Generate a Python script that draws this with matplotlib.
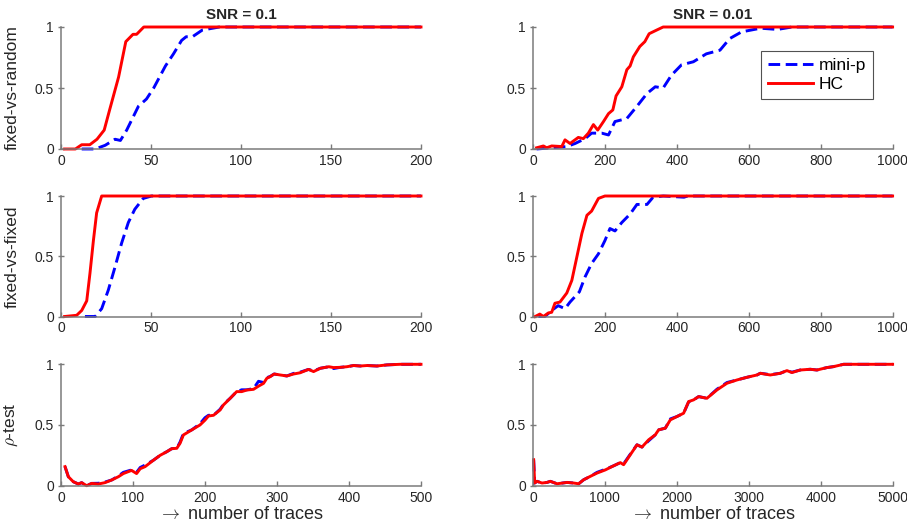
import numpy as np
import matplotlib
matplotlib.use('Agg')
import matplotlib.pyplot as plt

plt.rcParams.update({
    'font.family': ['Liberation Sans', 'DejaVu Sans'],
    'mathtext.fontset': 'cm',
    'axes.edgecolor': '#7a7a7a',
    'xtick.color': '#7a7a7a',
    'ytick.color': '#7a7a7a',
    'xtick.labelcolor': '#262626',
    'ytick.labelcolor': '#262626',
})

# ---- data ----
# fixed-vs-random, SNR = 0.1
fvr01_hc_x = [2, 8, 11.5, 16, 20, 24, 27, 32, 36, 40, 42, 46, 200]
fvr01_hc_y = [0, 0, 0.035, 0.035, 0.08, 0.155, 0.32, 0.59, 0.88, 0.94, 0.94, 1.0, 1.0]
fvr01_mp_x = [11.5, 19, 24.5, 30, 33, 36.5, 43, 47.5, 51.5, 58, 62.5, 67, 69.5, 73, 78.5, 88, 200]
fvr01_mp_y = [0, 0, 0.03, 0.08, 0.07, 0.155, 0.35, 0.41, 0.50, 0.68, 0.78, 0.89, 0.92, 0.92, 0.975, 1.0, 1.0]

# fixed-vs-random, SNR = 0.01
fvr001_hc_x = [10, 29, 38, 52, 80, 89, 103, 126, 140, 154, 168, 180, 196, 210, 222, 231,
               247, 261, 270, 279, 297, 311, 323, 344, 362, 1000]
fvr001_hc_y = [0.01, 0.025, 0.01, 0.025, 0.02, 0.075, 0.045, 0.095, 0.085, 0.13, 0.20, 0.155,
               0.225, 0.29, 0.32, 0.435, 0.51, 0.65, 0.68, 0.755, 0.84, 0.88, 0.945, 0.975, 1.0, 1.0]
fvr001_mp_x = [10, 94, 117, 145, 163, 191, 210, 228, 261, 289, 317, 340, 362, 385, 413, 446,
               482, 520, 547, 580, 633, 680, 720, 1000]
fvr001_mp_y = [0, 0.02, 0.045, 0.085, 0.13, 0.13, 0.115, 0.225, 0.25, 0.35, 0.455, 0.51, 0.50,
               0.605, 0.69, 0.715, 0.78, 0.81, 0.905, 0.96, 0.99, 0.98, 1.0, 1.0]

# fixed-vs-fixed, SNR = 0.1
fvf01_hc_x = [2, 8.7, 11.5, 14.3, 16.1, 18, 19.8, 22.6, 200]
fvf01_hc_y = [0, 0.01, 0.05, 0.13, 0.36, 0.63, 0.86, 1.0, 1.0]
fvf01_mp_x = [13.3, 19, 22.6, 26.3, 30, 33.7, 37.4, 41, 45.7, 50.3, 200]
fvf01_mp_y = [0, 0, 0.065, 0.22, 0.41, 0.61, 0.78, 0.89, 0.98, 1.0, 1.0]

# fixed-vs-fixed, SNR = 0.01
fvf001_hc_x = [6, 19, 29, 43, 52, 61, 75, 94, 108, 122, 136, 150, 163, 182, 200, 1000]
fvf001_hc_y = [0, 0.02, 0.0, 0.03, 0.035, 0.11, 0.12, 0.195, 0.30, 0.495, 0.69, 0.84, 0.875,
               0.98, 1.0, 1.0]
fvf001_mp_x = [15, 33, 52, 70, 89, 103, 129, 145, 163, 182, 200, 214, 228, 247, 270, 289,
               317, 334, 362, 420, 430, 1000]
fvf001_mp_y = [0, 0, 0.05, 0.09, 0.065, 0.12, 0.205, 0.33, 0.44, 0.52, 0.63, 0.73, 0.71, 0.78,
               0.85, 0.93, 0.93, 0.99, 1.0, 0.99, 1.0, 1.0]

# rho-test, SNR = 0.1
rho01_x = [5.6, 10.2, 17, 24, 28.7, 35.7, 42.6, 51.9, 61, 70.4, 79.7, 86.6, 98, 105, 110,
           116.8, 128.4, 137.6, 146.9, 153.8, 160.8, 165.4, 170, 181.7, 193, 200, 204.8,
           211.8, 221, 225.6, 235, 244, 251, 258, 267.4, 274.3, 281.3, 285.9, 290.5, 296,
           304.5, 313.7, 323, 332, 343.8, 350.8, 360, 372, 378.6, 388, 397, 406.4, 415.7,
           425, 438.8, 452.6, 471, 500]
rho01_hc = [0.157, 0.074, 0.033, 0.014, 0.025, 0.0, 0.019, 0.014, 0.025, 0.047, 0.074, 0.10,
            0.126, 0.10, 0.14, 0.157, 0.21, 0.25, 0.28, 0.305, 0.308, 0.35, 0.418, 0.46, 0.50,
            0.54, 0.574, 0.58, 0.624, 0.665, 0.72, 0.775, 0.775, 0.788, 0.794, 0.82, 0.843,
            0.885, 0.898, 0.92, 0.912, 0.904, 0.92, 0.93, 0.958, 0.94, 0.967, 0.98, 0.973,
            0.975, 0.98, 0.99, 0.986, 0.99, 0.986, 0.995, 1.0, 1.0]
rho01_mp = [0.157, 0.074, 0.033, 0.014, 0.025, 0.0, 0.019, 0.02, 0.03, 0.047, 0.08, 0.11,
            0.13, 0.11, 0.15, 0.17, 0.21, 0.25, 0.28, 0.305, 0.308, 0.36, 0.43, 0.46, 0.51,
            0.56, 0.58, 0.58, 0.63, 0.67, 0.72, 0.775, 0.79, 0.79, 0.80, 0.86, 0.85, 0.89,
            0.90, 0.92, 0.912, 0.904, 0.925, 0.935, 0.958, 0.945, 0.967, 0.98, 0.965,
            0.975, 0.98, 0.99, 0.986, 0.99, 0.986, 0.995, 1.0, 1.0]

# rho-test, SNR = 0.01
rho001_x = [9, 23, 56, 125, 195, 241, 334, 473, 565, 635, 704, 797, 890, 1005, 1121, 1214,
            1260, 1353, 1446, 1515, 1608, 1700, 1747, 1840, 1909, 2002, 2094, 2164, 2233,
            2303, 2418, 2558, 2697, 2836, 2975, 3114, 3160, 3299, 3438, 3531, 3600, 3716,
            3855, 3948, 4087, 4180, 4319, 5000]
rho001_hc = [0.214, 0.022, 0.036, 0.022, 0.027, 0.036, 0.016, 0.027, 0.022, 0.016, 0.049,
             0.077, 0.104, 0.13, 0.164, 0.19, 0.173, 0.255, 0.337, 0.318, 0.378, 0.419, 0.46,
             0.474, 0.542, 0.57, 0.597, 0.693, 0.707, 0.734, 0.72, 0.789, 0.844, 0.871, 0.893,
             0.912, 0.926, 0.912, 0.926, 0.948, 0.932, 0.953, 0.959, 0.953, 0.973, 0.981, 1.0, 1.0]
rho001_mp = [0.214, 0.022, 0.036, 0.022, 0.027, 0.036, 0.016, 0.027, 0.022, 0.016, 0.049,
             0.077, 0.11, 0.135, 0.164, 0.19, 0.18, 0.26, 0.337, 0.318, 0.37, 0.419, 0.46,
             0.474, 0.55, 0.57, 0.597, 0.69, 0.707, 0.734, 0.72, 0.795, 0.85, 0.871, 0.893,
             0.912, 0.926, 0.915, 0.926, 0.948, 0.935, 0.953, 0.959, 0.953, 0.973, 0.981, 1.0, 1.0]

panels = [
    (fvr01_mp_x, fvr01_mp_y, fvr01_hc_x, fvr01_hc_y, 200),
    (fvr001_mp_x, fvr001_mp_y, fvr001_hc_x, fvr001_hc_y, 1000),
    (fvf01_mp_x, fvf01_mp_y, fvf01_hc_x, fvf01_hc_y, 200),
    (fvf001_mp_x, fvf001_mp_y, fvf001_hc_x, fvf001_hc_y, 1000),
    (rho01_x, rho01_mp, rho01_x, rho01_hc, 500),
    (rho001_x, rho001_mp, rho001_x, rho001_hc, 5000),
]
row_labels = ['fixed-vs-random', 'fixed-vs-fixed', r'$\rho$-test']
col_titles = ['SNR = 0.1', 'SNR = 0.01']

W, H = 907, 529
fig = plt.figure(figsize=(W / 100, H / 100), dpi=100)

col_px = [(61, 421), (533, 892.6)]
row_px = [(27, 149), (196, 316.5), (364.3, 485.7)]

for i, (mx, my, hx, hy, xmax) in enumerate(panels):
    r, c = divmod(i, 2)
    x0, x1 = col_px[c]
    y0, y1 = row_px[r]
    ax = fig.add_axes([x0 / W, 1 - y1 / H, (x1 - x0) / W, (y1 - y0) / H])
    ax.plot(mx, my, color='#0000ff', lw=2.1, ls='--', dashes=(4.0, 1.9),
            clip_on=False, label='mini-p')
    ax.plot(hx, hy, color='#ff0000', lw=2.1, clip_on=False, label='HC')
    ax.set_xlim(0, xmax)
    ax.set_ylim(0, 1)
    ax.set_yticks([0, 0.5, 1])
    ax.set_yticklabels(['0', '0.5', '1'])
    ax.set_xticks(np.linspace(0, xmax, 5 if xmax == 200 else 6))
    ax.spines['top'].set_visible(False)
    ax.spines['right'].set_visible(False)
    for s in ('left', 'bottom'):
        ax.spines[s].set_linewidth(1.1)
    ax.tick_params(axis='x', direction='in', length=3.5, width=1.0, labelsize=10, pad=3.5)
    ax.tick_params(axis='y', direction='inout', length=5, width=1.0, labelsize=10, pad=2.5)
    if c == 0:
        ax.set_ylabel(row_labels[r], fontsize=12.5, color='#262626')
        ax.yaxis.set_label_coords(-0.115, 0.5)
    if r == 0:
        ax.set_title(col_titles[c], fontsize=11, fontweight='bold', color='#262626', pad=6)
    if r == 2:
        ax.set_xlabel(r'$\rightarrow$ number of traces', fontsize=13, color='#262626',
                      labelpad=1)
    if i == 1:
        leg = ax.legend(loc='upper right', bbox_to_anchor=(0.945, 0.80), fontsize=12.5,
                        handlelength=2.6, frameon=True, fancybox=False,
                        edgecolor='#262626', borderpad=0.4, labelspacing=0.22,
                        handletextpad=0.3, borderaxespad=0)
        leg.get_frame().set_linewidth(0.8)

fig.savefig('out.png', dpi=100)
